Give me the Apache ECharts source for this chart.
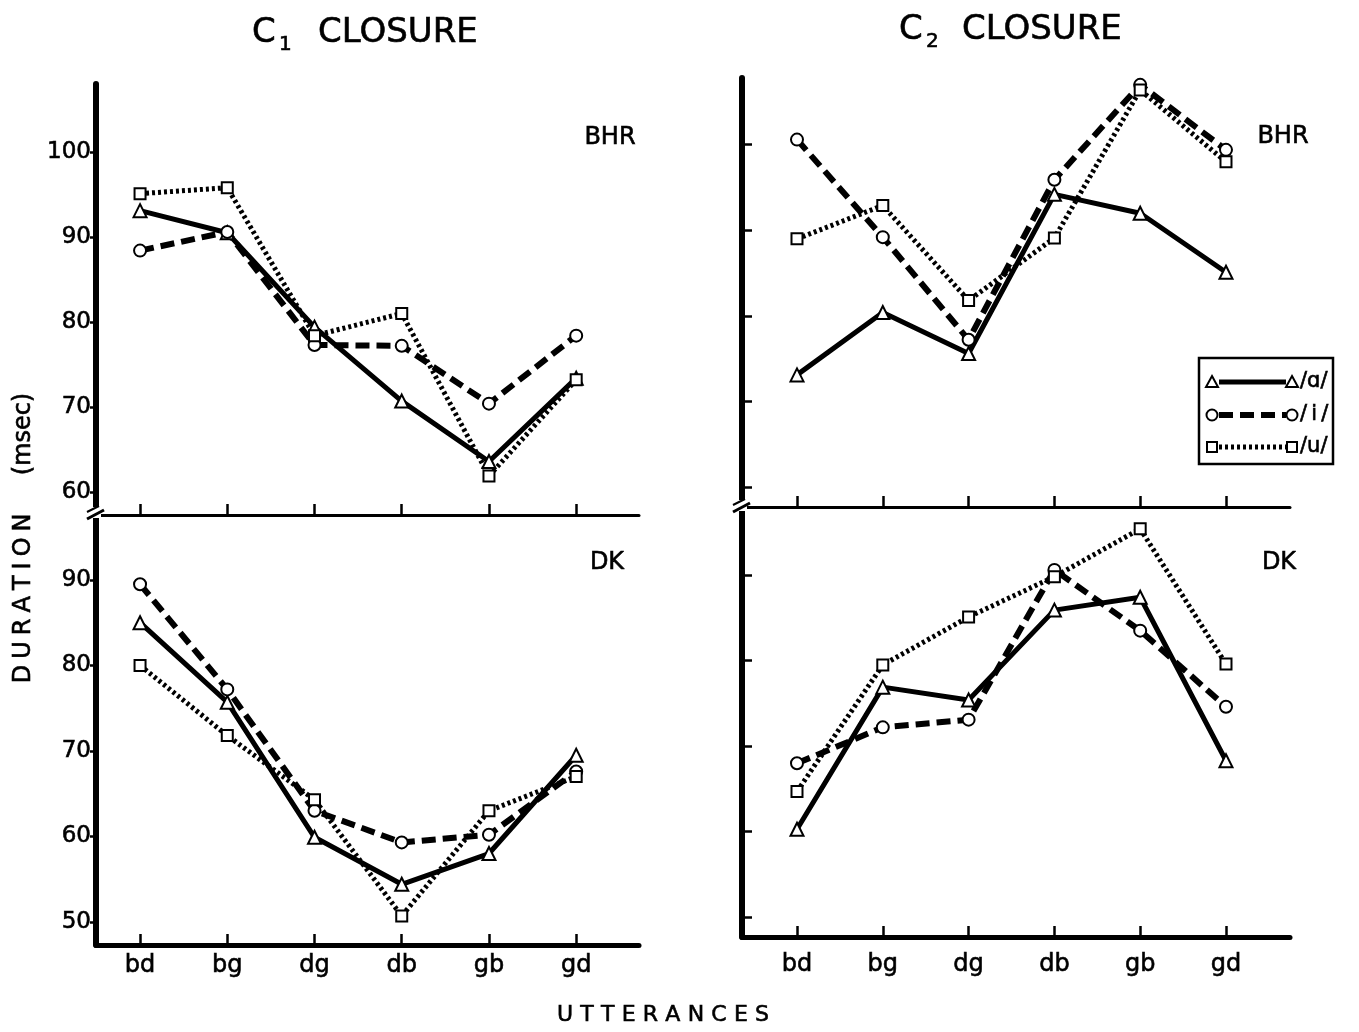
<!DOCTYPE html>
<html>
<head>
<meta charset="utf-8">
<script src="https://cdn.jsdelivr.net/npm/echarts@6/dist/echarts.min.js"></script>
<style>html,body{margin:0;padding:0;background:#fff}#c{width:1359px;height:1032px}</style>
</head>
<body>
<div id="c"></div>
<script>
// ---------- DATA ----------
const categories = ['bd', 'bg', 'dg', 'db', 'gb', 'gd'];
// C1 closure, speaker BHR
const c1BhrA = [93.1, 90.5, 79.4, 70.7, 63.6, 73.4];
const c1BhrI = [88.4, 90.6, 77.3, 77.2, 70.4, 78.4];
const c1BhrU = [95.1, 95.8, 78.4, 81.0, 61.9, 73.2];
// C1 closure, speaker DK
const c1DkA = [85.0, 75.7, 59.9, 54.4, 58.0, 69.5];
const c1DkI = [89.5, 77.2, 63.0, 59.3, 60.2, 67.6];
const c1DkU = [80.0, 71.8, 64.3, 50.7, 63.0, 67.0];
// C2 closure, speaker BHR
const c2BhrA = [73.1, 80.4, 75.6, 94.2, 92.0, 85.1];
const c2BhrI = [100.6, 89.2, 77.2, 95.9, 107.0, 99.4];
const c2BhrU = [89.0, 92.9, 81.8, 89.1, 106.4, 98.0];
// C2 closure, speaker DK
const c2DkA = [60.3, 76.9, 75.4, 85.9, 87.4, 68.3];
const c2DkI = [68.0, 72.2, 73.1, 90.6, 83.5, 74.6];
const c2DkU = [64.7, 79.5, 85.1, 89.8, 95.4, 79.6];
// tick values
const ticksBhr = [60, 70, 80, 90, 100];
const ticksDk = [50, 60, 70, 80, 90];
const vowelLabels = ['/\u0251/', '/\u2009i\u2009/', '/u/'];

// ---------- CHART ----------
const FONT = '"DejaVu Sans", "Liberation Sans", sans-serif';
const chart = echarts.init(document.getElementById('c'), null, {renderer: 'canvas'});

const idx = categories.map((_, i) => i);
function pts(arr) { return arr.map((v, i) => [i, v]); }

const styles = {
  a: {lineStyle: {width: 5, type: 'solid', color: '#000', cap: 'round'}, symbol: 'triangle', symbolSize: 13},
  i: {lineStyle: {width: 6, type: [14, 7], color: '#000'}, symbol: 'circle', symbolSize: 12},
  u: {lineStyle: {width: 5, type: [3, 3], color: '#000'}, symbol: 'rect', symbolSize: 11}
};
function series(name, data, key, gi) {
  const s = styles[key];
  return {
    name: name, type: 'line', xAxisIndex: gi, yAxisIndex: gi,
    data: pts(data), symbol: s.symbol, symbolSize: s.symbolSize,
    showAllSymbol: true, lineStyle: s.lineStyle,
    itemStyle: {color: '#fff', borderColor: '#000', borderWidth: 2},
    z: 3, animation: false, silent: true
  };
}

function xAxis(gi, min, max, showLabels, labelMargin) {
  return {
    type: 'value', gridIndex: gi, min: min, max: max,
    splitLine: {show: false},
    axisLine: {show: true, onZero: false, lineStyle: {color: '#000', width: showLabels ? 5 : 3}},
    axisTick: {show: true, inside: true, length: 11, customValues: idx, lineStyle: {color: '#000', width: 2.5}},
    axisLabel: {show: showLabels, customValues: idx, margin: labelMargin,
      formatter: v => categories[Math.round(v)] || '',
      color: '#000', fontSize: 24, fontFamily: FONT, textBorderColor: '#000', textBorderWidth: 0.6}
  };
}
function yAxis(gi, min, max, ticks, showLabels) {
  return {
    type: 'value', gridIndex: gi, min: min, max: max,
    splitLine: {show: false},
    axisLine: {show: true, onZero: false, lineStyle: {color: '#000', width: 6}},
    axisTick: {show: true, inside: !showLabels, length: showLabels ? 6 : 10, customValues: ticks,
      lineStyle: {color: '#000', width: 2.5}},
    axisLabel: {show: showLabels, customValues: ticks, margin: 5, color: '#000',
      fontSize: 23, fontFamily: FONT, textBorderColor: '#000', textBorderWidth: 0.6}
  };
}

const graphics = [];
function txt(text, x, y, size, align, extra) {
  graphics.push(Object.assign({
    type: 'text', x: x, y: y, silent: true,
    style: {text: text, font: size + 'px ' + FONT, fill: '#000', stroke: '#000', lineWidth: 0.6,
      textAlign: align || 'left', textVerticalAlign: 'middle'}
  }, extra || {}));
}
// Titles
txt('C', 252, 33, 34);
txt('1', 279, 45, 20);
txt('CLOSURE', 318, 33, 34);
txt('C', 899, 30, 34);
txt('2', 926, 42, 20);
txt('CLOSURE', 962, 30, 34);
// Panel labels
txt('BHR', 610, 138, 24, 'center');
txt('DK', 607, 563, 24, 'center');
txt('BHR', 1283, 137, 24, 'center');
txt('DK', 1279, 563, 24, 'center');
// Axis names
const sp4 = '\u2004';
txt('UTTERANCES'.split('').join(sp4), 663, 1015, 22, 'center');
txt('DURATION'.split('').join('\u2005') + '     (msec)', 0, 0, 24, 'center', {x: 24, y: 538, rotation: Math.PI / 2});

// Axis break marks
function brk(x, y) {
  graphics.push({type: 'rect', silent: true, shape: {x: x - 5, y: y - 7, width: 10, height: 11}, style: {fill: '#fff'}, z: 50});
  graphics.push({type: 'line', silent: true, shape: {x1: x - 9, y1: y + 5, x2: x + 8, y2: y - 4}, style: {stroke: '#000', lineWidth: 3}, z: 51});
  graphics.push({type: 'line', silent: true, shape: {x1: x - 9, y1: y - 2, x2: x + 3, y2: y - 8}, style: {stroke: '#000', lineWidth: 2}, z: 51});
}
brk(96, 514);
brk(742, 507);

// Legend (drawn box)
const lg = {x: 1199, y: 358, w: 134, h: 106};
graphics.push({type: 'rect', silent: true, shape: {x: lg.x, y: lg.y, width: lg.w, height: lg.h},
  style: {fill: '#fff', stroke: '#000', lineWidth: 2.5}, z: 20});
const rowY = [382, 415, 447];
const keys = ['a', 'i', 'u'];
const symbolShapes = {
  a: (cx, cy) => ({type: 'polygon', shape: {points: [[cx, cy - 6], [cx + 6, cy + 5], [cx - 6, cy + 5]]}}),
  i: (cx, cy) => ({type: 'circle', shape: {cx: cx, cy: cy, r: 5.5}}),
  u: (cx, cy) => ({type: 'rect', shape: {x: cx - 5, y: cy - 5, width: 10, height: 10}})
};
keys.forEach((k, r) => {
  const y = rowY[r];
  const dash = k === 'a' ? null : (k === 'i' ? [14, 7] : [3, 3]);
  graphics.push({type: 'line', silent: true, shape: {x1: 1219, y1: y, x2: 1286, y2: y},
    style: {stroke: '#000', lineWidth: k === 'i' ? 6 : 5, lineDash: dash}, z: 21});
  [1212, 1292].forEach(cx => {
    const g = symbolShapes[k](cx, y);
    g.silent = true; g.z = 22;
    g.style = {fill: '#fff', stroke: '#000', lineWidth: 2};
    graphics.push(g);
  });
  txt(vowelLabels[r], 1300, y, 21, 'left', {z: 23});
});

const option = {
  animation: false,
  backgroundColor: '#fff',
  grid: [
    {left: 96, top: 84, width: 543, height: 431},
    {left: 96, top: 515, width: 543, height: 430},
    {left: 742, top: 78, width: 548, height: 429},
    {left: 742, top: 507, width: 548, height: 430}
  ],
  xAxis: [
    xAxis(0, -0.505, 5.72, false, 8),
    xAxis(1, -0.505, 5.72, true, 9),
    xAxis(2, -0.641, 5.746, false, 8),
    xAxis(3, -0.641, 5.746, true, 16)
  ],
  yAxis: [
    yAxis(0, 57.3, 108, ticksBhr, true),
    yAxis(1, 47.3, 97.6, ticksDk, true),
    yAxis(2, 57.66, 107.8, ticksBhr, false),
    yAxis(3, 47.7, 97.95, ticksDk, false)
  ],
  series: [
    series('/a/ C1 BHR', c1BhrA, 'a', 0),
    series('/i/ C1 BHR', c1BhrI, 'i', 0),
    series('/u/ C1 BHR', c1BhrU, 'u', 0),
    series('/a/ C1 DK', c1DkA, 'a', 1),
    series('/i/ C1 DK', c1DkI, 'i', 1),
    series('/u/ C1 DK', c1DkU, 'u', 1),
    series('/a/ C2 BHR', c2BhrA, 'a', 2),
    series('/i/ C2 BHR', c2BhrI, 'i', 2),
    series('/u/ C2 BHR', c2BhrU, 'u', 2),
    series('/a/ C2 DK', c2DkA, 'a', 3),
    series('/i/ C2 DK', c2DkI, 'i', 3),
    series('/u/ C2 DK', c2DkU, 'u', 3)
  ],
  graphic: graphics
};
chart.setOption(option);
</script>
</body>
</html>
